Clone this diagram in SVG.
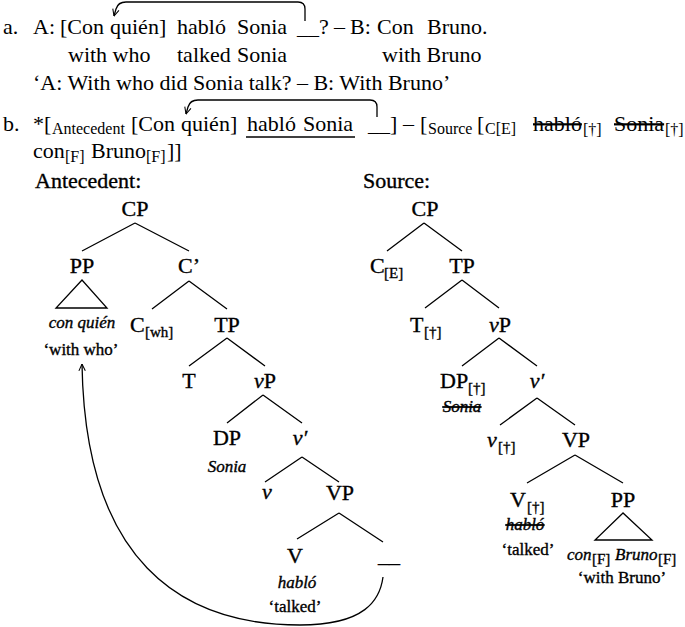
<svg xmlns="http://www.w3.org/2000/svg" width="685" height="627" viewBox="0 0 685 627">
<style>
text { font-family: "Liberation Serif", "Times New Roman", serif; fill: #000; }
.t { font-size: 22px; }
.s { font-size: 16px; }
.ss { font-size: 15px; }
.g { font-size: 17px; }
.i { font-style: italic; }
.st { text-decoration: line-through; }
.m { text-anchor: middle; }
.h text { stroke: #000; stroke-width: 0.35; }
.e { stroke: #000; stroke-width: 1.3; fill: none; }
</style>
<defs>
<marker id="ah" viewBox="0 0 10 10" refX="9.5" refY="5" markerWidth="8" markerHeight="8" markerUnits="userSpaceOnUse" orient="auto"><path d="M1,1 L9.5,5 L1,9" fill="none" stroke="#000" stroke-width="1.3"/></marker>
</defs>
<rect width="685" height="627" fill="#fff"/>

<g id="example-a">
<text class="t" y="34"><tspan x="3">a.</tspan><tspan x="33">A:</tspan><tspan x="60">[Con</tspan><tspan x="110">quién]</tspan><tspan x="177">habló</tspan><tspan x="237">Sonia</tspan><tspan x="297">__?</tspan><tspan x="334">–</tspan><tspan x="350">B:</tspan><tspan x="377">Con</tspan><tspan x="427">Bruno.</tspan></text>
<text class="t" y="62"><tspan x="68">with who</tspan><tspan x="177">talked</tspan><tspan x="237">Sonia</tspan><tspan x="382">with Bruno</tspan></text>
<text class="t" x="33" y="90">‘A: With who did Sonia talk? – B: With Bruno’</text>
</g>

<g id="example-b">
<text class="t" x="3" y="131">b.</text>
<text class="t" x="33" y="131">*[</text>
<text class="s" x="52" y="134">Antecedent</text>
<text class="t" y="131"><tspan x="131">[Con</tspan><tspan x="181">quién]</tspan><tspan x="247">habló</tspan><tspan x="303">Sonia</tspan><tspan x="368">__]</tspan><tspan x="403">–</tspan><tspan x="420">[</tspan></text>
<text class="s" x="428" y="134">Source</text>
<text class="t" x="477" y="131">[</text>
<text class="s" x="485" y="134">C[E]</text>
<text class="t st" x="533" y="131">habló</text>
<text class="s" x="583" y="135">[†]</text>
<text class="t st" x="614" y="131">Sonia</text>
<text class="s" x="665" y="135">[†]</text>
<line class="e" x1="246" y1="137" x2="355" y2="137"/>
<text class="t" x="33" y="158">con</text>
<text class="s" x="65" y="162">[F]</text>
<text class="t" x="91" y="158">Bruno</text>
<text class="s" x="146" y="162">[F]</text>
<text class="t" x="167" y="158">]]</text>
</g>

<g id="headings" class="h">
<text class="t" x="35" y="188">Antecedent:</text>
<text class="t" x="363" y="188">Source:</text>
</g>

<g id="connectors">
<path class="e" d="M305,21 V9 Q305,2 298,2 H126 Q118,2 116,9 L114,16" marker-end="url(#ah)"/>
<path class="e" d="M377,117 V107 Q377,100 370,100 H198 Q190,100 188,107 L186,114" marker-end="url(#ah)"/>
<path class="e" d="M135,223 L82,251 M135,223 L189,251"/>
<path class="e" d="M82,280 L56,308 L107,308 Z"/>
<path class="e" d="M189,281 L152,309 M189,281 L227,309"/>
<path class="e" d="M227,338 L189,366 M227,338 L265,366"/>
<path class="e" d="M263,395 L227,423 M263,395 L302,423"/>
<path class="e" d="M302,457 L265,482 M302,457 L339,482"/>
<path class="e" d="M339,513 L297,539 M339,513 L383,542"/>
<path class="e" d="M383,577 C380,600 365,625 300,625 C180,625 85,560 82,364" marker-end="url(#ah)"/>
<path class="e" d="M424,223 L387,251 M424,223 L462,251"/>
<path class="e" d="M462,280 L425,308 M462,280 L499,308"/>
<path class="e" d="M499,338 L462,366 M499,338 L537,366"/>
<path class="e" d="M537,398 L500,425 M537,398 L575,425"/>
<path class="e" d="M575,455 L527,483 M575,455 L623,483"/>
<path class="e" d="M623,513 L595,540 L652,540 Z"/>
</g>

<g class="h">
<g id="ant-CP"><text class="t m" x="135" y="216">CP</text></g>
<g id="ant-PP"><text class="t m" x="82" y="273">PP</text><text class="g i m" x="82" y="328">con quién</text><text class="g m" x="81" y="355">‘with who’</text></g>
<g id="ant-Cbar"><text class="t m" x="189" y="273">C’</text></g>
<g id="ant-C"><text class="t" x="130" y="332">C</text><text class="ss" x="145" y="337">[wh]</text></g>
<g id="ant-TP"><text class="t m" x="227" y="332">TP</text></g>
<g id="ant-T"><text class="t m" x="189" y="388">T</text></g>
<g id="ant-vP"><text class="t m" x="265" y="388"><tspan class="i">v</tspan>P</text></g>
<g id="ant-DP"><text class="t m" x="227" y="445">DP</text><text class="g i m" x="227" y="472">Sonia</text></g>
<g id="ant-vbar"><text class="t m i" x="300" y="445">v′</text></g>
<g id="ant-v"><text class="t m i" x="267" y="499">v</text></g>
<g id="ant-VP"><text class="t m" x="340" y="500">VP</text></g>
<g id="ant-V"><text class="t m" x="295" y="563">V</text><text class="g i m" x="297" y="588">habló</text><text class="g m" x="295" y="612">‘talked’</text></g>
<g id="ant-gap"><text class="t" x="378" y="562">__</text></g>

<g id="src-CP"><text class="t m" x="425" y="216">CP</text></g>
<g id="src-C"><text class="t" x="370" y="273">C</text><text class="ss" x="384" y="278">[E]</text></g>
<g id="src-TP"><text class="t m" x="462" y="273">TP</text></g>
<g id="src-T"><text class="t" x="410" y="332">T</text><text class="ss" x="424" y="337">[†]</text></g>
<g id="src-vP"><text class="t m" x="500" y="332"><tspan class="i">v</tspan>P</text></g>
<g id="src-DP"><text class="t" x="440" y="388">DP</text><text class="ss" x="468" y="393">[†]</text><text class="g i m st" x="462" y="412">Sonia</text></g>
<g id="src-vbar"><text class="t m i" x="537" y="388">v′</text></g>
<g id="src-v"><text class="t i" x="487" y="447">v</text><text class="ss" x="498" y="452">[†]</text></g>
<g id="src-VP"><text class="t m" x="576" y="447">VP</text></g>
<g id="src-V"><text class="t" x="510" y="507">V</text><text class="ss" x="527" y="512">[†]</text><text class="g i m st" x="525" y="530">habló</text><text class="g m" x="528" y="555">‘talked’</text></g>
<g id="src-PP"><text class="t m" x="623" y="507">PP</text><text class="g i" x="567" y="560">con</text><text class="ss" x="592" y="564">[F]</text><text class="g i" x="615" y="560">Bruno</text><text class="ss" x="658" y="564">[F]</text><text class="g m" x="622" y="583">‘with Bruno’</text></g>
</g>
</svg>
